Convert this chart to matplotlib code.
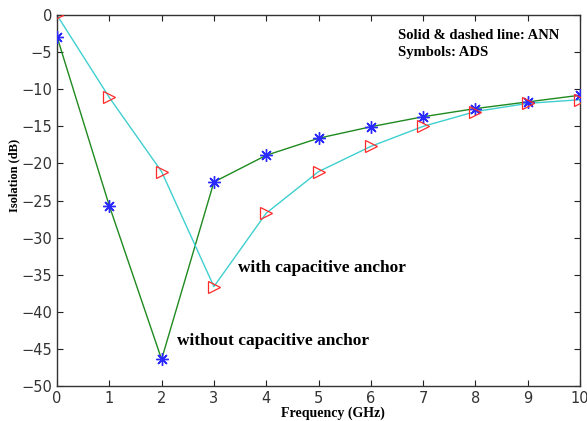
import matplotlib.pyplot as plt
import numpy as np

# Frequency points (GHz)
freq = [0, 1, 2, 3, 4, 5, 6, 7, 8, 9, 10]

# Isolation (dB) without capacitive anchor
iso_without = [-2.9, -25.7, -46.4, -22.5, -18.9, -16.6, -15.05, -13.7, -12.6, -11.7, -10.8]
# Isolation (dB) with capacitive anchor
iso_with = [0.0, -11.1, -21.1, -36.6, -26.7, -21.1, -17.7, -15.0, -13.0, -11.9, -11.4]

xticks = list(range(0, 11))
yticks = list(range(-50, 1, 5))

fig = plt.figure(figsize=(5.87, 4.21), dpi=100)
ax = fig.add_axes([0.0971, 0.0831, 0.891, 0.881])

# ANN lines
ax.plot(freq, iso_without, color="#1f8a1f", lw=1.0, zorder=2)
ax.plot(freq, iso_with, color="#3fcfcf", lw=1.0, zorder=2)

# ADS symbols
ax.plot(freq, iso_without, ls="none", marker=(8, 2, 0), ms=9, mew=1.0,
        color="#2a2aff", zorder=3)
ax.plot(freq, iso_with, ls="none", marker=">", ms=8.5, mew=0.9,
        mfc="none", mec="#ff2a2a", zorder=3)

ax.set_xlim(0, 10)
ax.set_ylim(-50, 0)
ax.set_xticks(xticks)
ax.set_yticks(yticks)
ax.tick_params(direction="in", top=True, right=True, length=4,
               labelsize=10.5, colors="#222222", labelcolor="#333333")
for s in ax.spines.values():
    s.set_color("#333333")
    s.set_linewidth(1.0)

serif = ["Liberation Serif", "DejaVu Serif"]
ax.set_xlabel("Frequency (GHz)", family=serif, fontweight="bold", fontsize=10, labelpad=1)
ax.xaxis.set_label_coords(0.528, -0.055)
ax.set_ylabel("Isolation (dB)", family=serif, fontweight="bold", fontsize=9, labelpad=4)
ax.yaxis.set_label_coords(-0.07, 0.569)

ax.text(6.52, -2.7, "Solid & dashed line: ANN", family=serif, fontweight="bold",
        fontsize=10.5, va="center")
ax.text(6.52, -5.0, "Symbols: ADS", family=serif, fontweight="bold",
        fontsize=10.5, va="center")
ax.text(3.46, -34.1, "with capacitive anchor", family=serif, fontweight="bold",
        fontsize=12.5, va="center")
ax.text(2.29, -43.9, "without capacitive anchor", family=serif, fontweight="bold",
        fontsize=12.5, va="center")

fig.savefig("out.png", dpi=100)
plt.close(fig)
